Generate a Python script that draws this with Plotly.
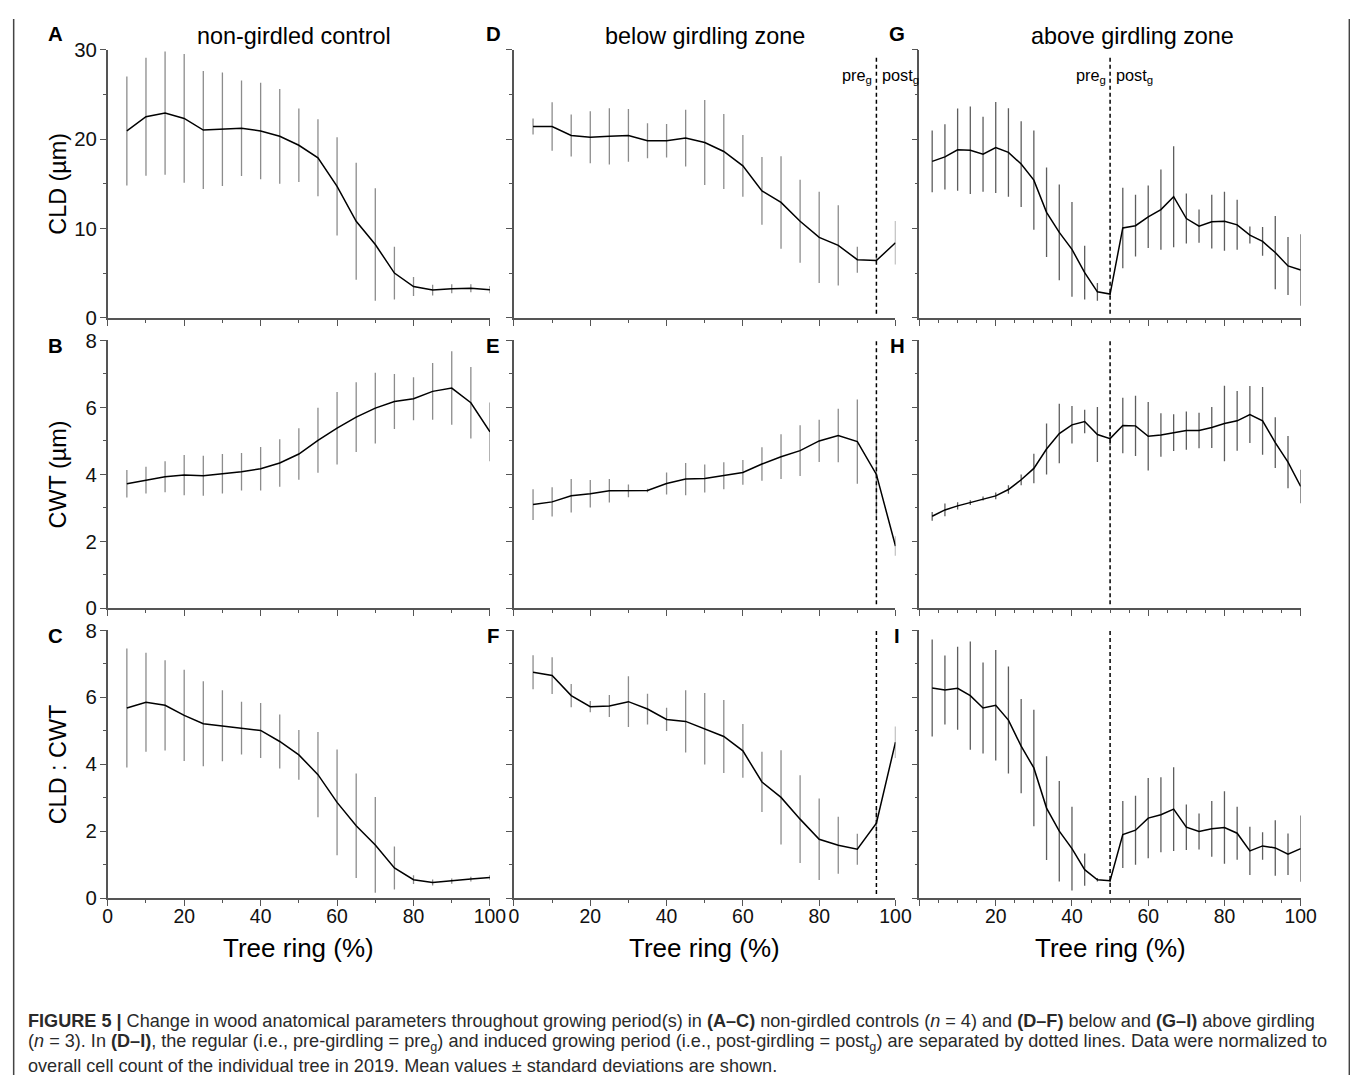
import plotly.graph_objects as go

# ---------------- data ----------------
x_ctrl = [5, 10, 15, 20, 25, 30, 35, 40, 45, 50, 55, 60, 65, 70, 75, 80, 85, 90, 95, 100]
x_below = [5, 10, 15, 20, 25, 30, 35, 40, 45, 50, 55, 60, 65, 70, 75, 80, 85, 90, 95, 100]
x_above = [3.33, 6.67, 10.0, 13.33, 16.67, 20.0, 23.33, 26.67, 30.0, 33.33, 36.67, 40.0, 43.33, 46.67, 50.0,
           53.33, 56.67, 60.0, 63.33, 66.67, 70.0, 73.33, 76.67, 80.0, 83.33, 86.67, 90.0, 93.33, 96.67, 100.0]

# A: CLD control
A_mean = [20.9, 22.5, 22.9, 22.3, 21.0, 21.1, 21.2, 20.9, 20.3, 19.3, 17.9, 14.7, 10.8, 8.2, 5.0, 3.5, 3.1, 3.25, 3.3, 3.15]
A_sd = [6.1, 6.6, 6.9, 7.2, 6.6, 6.35, 5.35, 5.4, 5.3, 4.1, 4.3, 5.5, 6.55, 6.3, 2.95, 1.05, 0.6, 0.5, 0.45, 0.4]
# B: CWT control
B_mean = [3.72, 3.83, 3.93, 3.98, 3.96, 4.02, 4.08, 4.17, 4.34, 4.61, 5.02, 5.38, 5.71, 5.98, 6.18, 6.26, 6.48, 6.58, 6.14, 5.27]
B_sd = [0.41, 0.40, 0.46, 0.60, 0.60, 0.59, 0.56, 0.65, 0.71, 0.77, 0.97, 1.08, 1.04, 1.06, 0.82, 0.64, 0.85, 1.10, 1.07, 0.88]
# C: CLD:CWT control
C_mean = [5.68, 5.85, 5.76, 5.46, 5.21, 5.15, 5.08, 5.01, 4.68, 4.28, 3.69, 2.86, 2.16, 1.59, 0.90, 0.55, 0.47, 0.51, 0.57, 0.62]
C_sd = [1.78, 1.48, 1.35, 1.36, 1.27, 1.06, 0.79, 0.82, 0.81, 0.74, 1.27, 1.58, 1.56, 1.43, 0.64, 0.13, 0.09, 0.08, 0.07, 0.07]

# D: CLD below girdling
D_mean = [21.4, 21.4, 20.4, 20.2, 20.3, 20.4, 19.8, 19.8, 20.1, 19.6, 18.6, 17.0, 14.2, 12.9, 10.8, 9.0, 8.1, 6.5, 6.4, 8.4]
D_sd = [0.9, 2.7, 2.35, 2.9, 3.15, 2.95, 1.95, 1.87, 3.17, 4.75, 4.2, 3.45, 3.8, 5.17, 4.63, 5.1, 4.5, 1.46, 0.3, 2.43]
# E: CWT below girdling
E_mean = [3.10, 3.18, 3.36, 3.42, 3.51, 3.51, 3.52, 3.73, 3.86, 3.88, 3.96, 4.06, 4.31, 4.53, 4.71, 5.00, 5.16, 4.98, 4.00, 1.86]
E_sd = [0.46, 0.44, 0.50, 0.41, 0.35, 0.19, 0.05, 0.33, 0.48, 0.42, 0.40, 0.37, 0.50, 0.67, 0.76, 0.63, 0.80, 1.26, 1.28, 0.29]
# F: CLD:CWT below girdling
F_mean = [6.75, 6.65, 6.05, 5.72, 5.74, 5.87, 5.65, 5.34, 5.28, 5.06, 4.83, 4.40, 3.47, 3.01, 2.36, 1.76, 1.58, 1.46, 2.24, 4.66]
F_sd = [0.51, 0.55, 0.35, 0.17, 0.33, 0.76, 0.46, 0.35, 0.93, 1.07, 1.09, 0.80, 0.90, 1.41, 1.31, 1.22, 0.85, 0.46, 0.50, 0.47]

# G: CLD above girdling
G_mean = [17.5, 18.0, 18.8, 18.75, 18.3, 19.05, 18.5, 17.2, 15.4, 11.8, 9.55, 7.65, 5.05, 2.9, 2.65,
          10.05, 10.3, 11.3, 12.1, 13.55, 11.1, 10.25, 10.75, 10.8, 10.4, 9.25, 8.55, 7.3, 5.8, 5.35]
G_sd = [3.45, 3.65, 4.6, 4.9, 4.2, 5.1, 4.95, 4.8, 5.55, 5.0, 5.35, 5.3, 3.0, 1.0, 0.3,
        4.5, 3.45, 3.5, 4.5, 5.65, 2.8, 1.85, 3.0, 3.3, 2.8, 0.95, 1.6, 4.1, 3.25, 4.0]
# H: CWT above girdling
H_mean = [2.75, 2.94, 3.06, 3.16, 3.28, 3.36, 3.55, 3.84, 4.18, 4.76, 5.22, 5.48, 5.58, 5.19, 5.07,
          5.46, 5.45, 5.14, 5.18, 5.25, 5.31, 5.31, 5.40, 5.52, 5.60, 5.79, 5.60, 4.95, 4.37, 3.64]
H_sd = [0.13, 0.19, 0.11, 0.07, 0.06, 0.10, 0.13, 0.16, 0.44, 0.76, 0.89, 0.56, 0.35, 0.82, 0.2,
        0.83, 0.90, 1.02, 0.65, 0.55, 0.57, 0.53, 0.61, 1.13, 0.89, 0.85, 1.01, 0.76, 0.78, 0.50]
# I: CLD:CWT above girdling
I_mean = [6.28, 6.22, 6.27, 6.05, 5.68, 5.76, 5.32, 4.54, 3.89, 2.69, 2.00, 1.48, 0.85, 0.55, 0.52,
          1.90, 2.03, 2.39, 2.49, 2.66, 2.12, 1.99, 2.07, 2.11, 1.94, 1.41, 1.56, 1.50, 1.31, 1.48]
I_sd = [1.45, 1.03, 1.24, 1.62, 1.36, 1.65, 1.60, 1.41, 1.74, 1.55, 1.50, 1.25, 0.48, 0.05, 0.05,
        1.00, 1.03, 1.20, 1.12, 1.25, 0.68, 0.54, 0.83, 1.08, 0.79, 0.72, 0.41, 0.83, 0.62, 0.99]

girdle_x = [None, 95, 50]  # boundary pre_g / post_g per column

col_titles = ["non-girdled control", "below girdling zone", "above girdling zone"]
row_titles = ["CLD (µm)", "CWT (µm)", "CLD : CWT"]
panel_letters = [["A", "D", "G"], ["B", "E", "H"], ["C", "F", "I"]]
x_ticks = [0, 20, 40, 60, 80, 100]

panels = [
    [(x_ctrl, A_mean, A_sd), (x_below, D_mean, D_sd), (x_above, G_mean, G_sd)],
    [(x_ctrl, B_mean, B_sd), (x_below, E_mean, E_sd), (x_above, H_mean, H_sd)],
    [(x_ctrl, C_mean, C_sd), (x_below, F_mean, F_sd), (x_above, I_mean, I_sd)],
]

# ---------------- layout helpers ----------------
W, H = 1358, 1078
# the photographed page maps paper into a slightly inset box; compensate
SX, OX, SY, OY = 0.984, 12.0, 0.979, 19.7
FS = 1 / 0.981  # font compensation

def px_x(p):
    return min(max(((p - OX) / SX) / W, 0), 1)

def px_y(p):
    return min(max(1 - ((p - OY) / SY) / H, 0), 1)

def fs(s):
    return round(s * FS, 1)

col_px = [(106.7, 488.7), (512.7, 894.0), (918.0, 1299.0)]
row_px = [(50.3, 318.3), (341.0, 608.7), (630.7, 898.3)]

FONT = "Liberation Sans, Arial, Helvetica, sans-serif"
AXC = "#555555"

fig = go.Figure()
layout = dict(
    width=W, height=H,
    margin=dict(l=0, r=0, t=0, b=0),
    paper_bgcolor="white", plot_bgcolor="white",
    showlegend=False,
    font=dict(family=FONT, color="black"),
)
shapes = []
annotations = []

for r in range(3):
    for c in range(3):
        idx = r * 3 + c + 1
        xs, ys, sds = panels[r][c]
        xname = "x" if idx == 1 else f"x{idx}"
        yname = "y" if idx == 1 else f"y{idx}"
        errc = "#8c8c8c" if c < 2 else "#5e5e5e"
        fig.add_trace(go.Scatter(
            x=xs, y=ys, mode="lines",
            line=dict(color="black", width=1.5),
            error_y=dict(type="data", array=sds, visible=True, color=errc, thickness=1.3, width=0),
            xaxis=xname, yaxis=yname, hoverinfo="skip",
        ))
        xkey = "xaxis" if idx == 1 else f"xaxis{idx}"
        ykey = "yaxis" if idx == 1 else f"yaxis{idx}"
        if r == 2:
            ttext = [str(v) for v in x_ticks]
            if c == 2:
                ttext[0] = ""
        else:
            ttext = ["" for v in x_ticks]
        layout[xkey] = dict(
            domain=[px_x(col_px[c][0]), px_x(col_px[c][1])],
            anchor=yname, range=[0, 100],
            showline=True, linecolor=AXC, linewidth=1.5,
            showgrid=False, zeroline=False,
            ticks="outside", ticklen=6, tickwidth=1.3, tickcolor=AXC,
            tickmode="array", tickvals=x_ticks, ticktext=ttext,
            ticklabelstandoff=-6,
            tickfont=dict(size=fs(19), family=FONT, color="#111"),
            minor=dict(dtick=(5 if c == 2 else 10), ticks="outside", ticklen=3,
                       tickwidth=1.2, tickcolor=AXC, showgrid=False),
        )
        if r == 0:
            yrange, ydt, ymin = [0, 30], 10, 5
        else:
            yrange, ydt, ymin = [0, 8], 2, 1
        layout[ykey] = dict(
            domain=[px_y(row_px[r][1]), px_y(row_px[r][0])],
            anchor=xname, range=yrange,
            showline=True, linecolor=AXC, linewidth=1.5,
            showgrid=False, zeroline=False,
            ticks="outside", ticklen=6, tickwidth=1.3, tickcolor=AXC,
            dtick=ydt, tick0=0, showticklabels=(c == 0),
            ticklabelstandoff=-1,
            tickfont=dict(size=fs(20), family=FONT, color="#111"),
            minor=dict(dtick=ymin, ticks="outside", ticklen=3, tickwidth=1.2,
                       tickcolor=AXC, showgrid=False),
        )
        # dashed pre/post boundary
        if girdle_x[c] is not None:
            shapes.append(dict(
                type="line", xref=xname, yref=f"{yname} domain",
                x0=girdle_x[c], x1=girdle_x[c], y0=0.015, y1=(0.98 if r == 0 else 1.0),
                line=dict(color="black", width=1.5, dash="4px,3px"),
            ))
        # panel letters
        annotations.append(dict(
            text=f"<b>{panel_letters[r][c]}</b>", xref="paper", yref="paper",
            x=px_x([54, 492, 896][c]), y=px_y([35, 347, 636][r]),
            xanchor="center", yanchor="middle", showarrow=False,
            font=dict(size=fs(20), family=FONT, color="black"),
        ))

# column titles and x-axis titles
for c in range(3):
    annotations.append(dict(
        text=col_titles[c], xref="paper", yref="paper",
        x=px_x([293, 704, 1131][c]), y=px_y(37),
        xanchor="center", yanchor="middle", showarrow=False,
        font=dict(size=fs(23), family=FONT, color="black"),
    ))
    annotations.append(dict(
        text="Tree ring (%)", xref="paper", yref="paper",
        x=px_x((col_px[c][0] + col_px[c][1]) / 2), y=px_y(948),
        xanchor="center", yanchor="middle", showarrow=False,
        font=dict(size=fs(25.5), family=FONT, color="black"),
    ))

# row titles
for r in range(3):
    annotations.append(dict(
        text=row_titles[r], xref="paper", yref="paper", textangle=-90,
        x=px_x(57), y=px_y((row_px[r][0] + row_px[r][1]) / 2),
        xanchor="center", yanchor="middle", showarrow=False,
        font=dict(size=fs(23), family=FONT, color="black"),
    ))

# pre_g / post_g labels
for c, xref in [(1, "x2"), (2, "x3")]:
    annotations.append(dict(
        text="pre<sub>g</sub>", xref=xref, yref="paper", x=girdle_x[c], y=px_y(77),
        xanchor="right", yanchor="middle", xshift=-2, showarrow=False,
        font=dict(size=fs(16), family=FONT, color="black"),
    ))
    annotations.append(dict(
        text="post<sub>g</sub>", xref=xref, yref="paper", x=girdle_x[c], y=px_y(77),
        xanchor="left", yanchor="middle", xshift=4, showarrow=False,
        font=dict(size=fs(16), family=FONT, color="black"),
    ))

# caption
caption = [
    "<b>FIGURE 5 |</b> Change in wood anatomical parameters throughout growing period(s) in <b>(A–C)</b> "
    "non-girdled controls (<i>n</i> = 4) and <b>(D–F)</b> below and <b>(G–I)</b> above girdling",
    "(<i>n</i> = 3). In <b>(D–I)</b>, the regular (i.e., pre-girdling = pre<sub>g</sub>) and induced growing "
    "period (i.e., post-girdling = post<sub>g</sub>) are separated by dotted lines. Data were normalized to",
    "overall cell count of the individual tree in 2019. Mean values ± standard deviations are shown.",
]
for i, line in enumerate(caption):
    annotations.append(dict(
        text=line, xref="paper", yref="paper", x=px_x(25), y=px_y([1021, 1043, 1066][i]),
        xanchor="left", yanchor="middle", showarrow=False,
        font=dict(size=fs(17.8), family=FONT, color="#2a2a2a"),
    ))

# frame lines (left / right border of the figure panel)
for xp in [0.0005, 0.9995]:
    shapes.append(dict(type="line", xref="paper", yref="paper",
                       x0=xp, x1=xp, y0=0, y1=1,
                       line=dict(color="#444", width=1.5)))

layout["shapes"] = shapes
layout["annotations"] = annotations
fig.update_layout(**layout)
fig.write_html("out.html")
